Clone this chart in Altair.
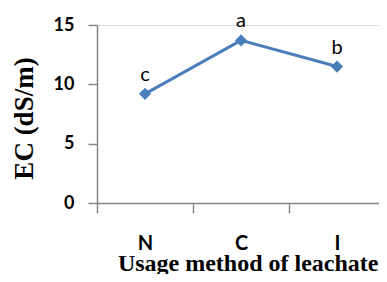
import altair as alt
import pandas as pd

methods = ["N", "C", "I"]
ec_values = [9.2, 13.7, 11.5]
letters = ["c", "a", "b"]

df = pd.DataFrame({"method": methods, "ec": ec_values, "letter": letters})

blue = "#4a7ebb"
grey = "#868686"

x = alt.X("method:N", sort=methods, scale=alt.Scale(paddingInner=0, paddingOuter=0),
          axis=alt.Axis(title="Usage method of leachate", labelAngle=0,
                        labelFont="Lato", labelFontWeight="bold", labelFontSize=20,
                        labelColor="black", labelPadding=20, labelBaseline="top",
                        tickBand="extent",
                        tickSize=10, tickColor=grey, domainColor=grey, domainWidth=1.5,
                        tickWidth=1.5,
                        titleFont="Liberation Serif", titleFontWeight="bold", titleFontSize=24,
                        titleColor="black", titleX=281, titleAlign="right",
                        titleY=67, titleBaseline="alphabetic"))
y = alt.Y("ec:Q", scale=alt.Scale(domain=[0, 15]),
          axis=alt.Axis(title="EC (dS/m)", values=[0, 5, 10, 15], grid=False,
                        labelFont="Lato", labelFontWeight="bold", labelFontSize=18,
                        labelColor="black", labelPadding=14, tickSize=9,
                        tickColor=grey, domainColor=grey, domainWidth=1.5, tickWidth=1.5,
                        titleFont="Liberation Serif", titleFontWeight="bold", titleFontSize=27,
                        titleColor="black", titleAngle=270, titleBaseline="middle",
                        titleAlign="center", titleX=-73, titleY=93))

base = alt.Chart(df).encode(x=x, y=y)
line = base.mark_line(color=blue, strokeWidth=3)
pts = base.mark_point(shape="diamond", filled=True, color=blue, size=150, opacity=1)
txt = base.mark_text(font="Lato", fontSize=20, baseline="bottom", dy=-9, color="black").encode(text="letter:N")

chart = (line + pts + txt).properties(
    width=288, height=178,
    autosize=alt.AutoSizeParams(type="none"),
    padding={"left": 89, "top": 17, "right": -6, "bottom": 71},
).configure_view(stroke=None).configure(background="white")

chart.save("out.html", embed_options={"renderer": "svg", "actions": False})
